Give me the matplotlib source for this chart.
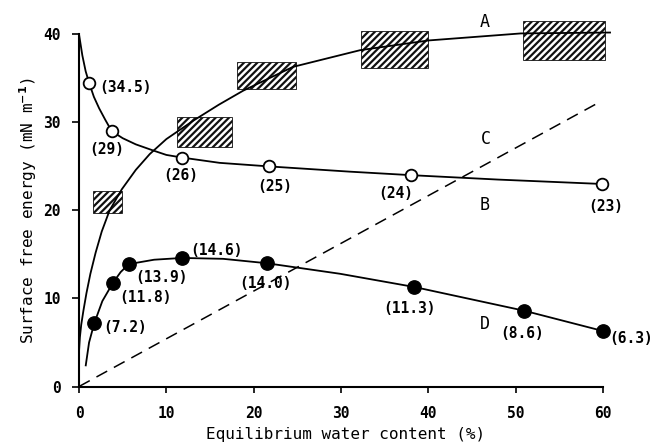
import matplotlib
matplotlib.use("Agg")
import matplotlib.pyplot as plt
import matplotlib.patches as mpatches

plt.rcParams["font.family"] = ["DejaVu Sans Mono", "DejaVu Sans"]
plt.rcParams["font.weight"] = "bold"
plt.rcParams["hatch.linewidth"] = 1.6

# Curve A: total surface free energy of the hydrated film (smooth trace)
a_x = [0.0, 0.1, 0.25, 0.5, 0.85, 1.3, 1.9, 2.6, 3.5, 4.9, 6.5, 8.1, 10.0,
       13.1, 16.0, 18.8, 24.5, 32.2, 40.0, 50.6, 60.8]
a_y = [4.0, 5.6, 7.0, 8.6, 10.6, 12.8, 15.2, 17.6, 20.0, 22.4, 24.6, 26.4, 28.1,
       30.2, 32.0, 33.6, 36.3, 38.2, 39.3, 40.1, 40.2]

# Curve B: open circles, values in brackets
b_pts_x = [1.15, 3.74, 11.8, 21.7, 38.05, 59.9]
b_pts_y = [34.5, 29.0, 26.0, 25.0, 24.0, 23.0]
b_labels = ["(34.5)", "(29)", "(26)", "(25)", "(24)", "(23)"]
b_x = [0.0, 0.38, 0.76, 1.15, 1.7, 2.3, 3.0, 3.74, 5.0, 6.5, 8.5, 10.0, 11.8,
       16.1, 21.7, 31.0, 38.05, 48.0, 59.9]
b_y = [40.0, 37.6, 35.8, 34.5, 32.9, 31.6, 30.3, 29.0, 28.2, 27.5, 26.8, 26.3, 26.0,
       25.4, 25.0, 24.4, 24.0, 23.5, 23.0]

# Curve C: dashed reference line
c_x = [0.0, 59.6]
c_y = [0.0, 32.3]

# Curve D: filled circles, values in brackets
d_pts_x = [1.75, 3.9, 5.7, 11.8, 21.5, 38.4, 51.0, 60.0]
d_pts_y = [7.2, 11.8, 13.9, 14.6, 14.0, 11.3, 8.6, 6.3]
d_labels = ["(7.2)", "(11.8)", "(13.9)", "(14.6)", "(14.0)", "(11.3)", "(8.6)", "(6.3)"]
d_x = [0.77, 1.15, 1.75, 2.67, 3.9, 4.77, 5.7, 8.6, 11.8, 16.5, 21.5, 29.9,
       38.4, 51.0, 60.0]
d_y = [2.4, 5.0, 7.2, 9.7, 11.8, 13.0, 13.9, 14.4, 14.6, 14.5, 14.0, 12.8,
       11.3, 8.6, 6.3]

# Hatched ranges (water content x energy)
rect_x0 = [1.64, 11.2, 18.1, 32.3, 50.8]
rect_x1 = [4.89, 17.5, 24.9, 40.0, 60.2]
rect_y0 = [19.67, 27.23, 33.75, 36.14, 37.08]
rect_y1 = [22.24, 30.64, 36.89, 40.37, 41.55]

x_ticks = [0, 10, 20, 30, 40, 50, 60]
y_ticks = [0, 10, 20, 30, 40]

fig = plt.figure(figsize=(6.58, 4.46), dpi=100)
ax = fig.add_axes([0.1201, 0.1334, 0.7964, 0.7897])

for x0, x1, y0, y1 in zip(rect_x0, rect_x1, rect_y0, rect_y1):
    ax.add_patch(mpatches.Rectangle((x0, y0), x1 - x0, y1 - y0, facecolor="none",
                                    edgecolor="#111111", hatch="/////", linewidth=0.6,
                                    clip_on=False, zorder=2))

ax.plot(a_x, a_y, color="black", lw=1.3, clip_on=False, zorder=3)
ax.plot(b_x, b_y, color="black", lw=1.3, clip_on=False, zorder=3)
ax.plot(d_x, d_y, color="black", lw=1.3, clip_on=False, zorder=3)
ax.plot(c_x, c_y, color="black", lw=1.1, linestyle=(0, (8, 5)), clip_on=False, zorder=3)

ax.plot(b_pts_x, b_pts_y, "o", ms=8.4, mfc="white", mec="black", mew=1.3,
        clip_on=False, zorder=5)
ax.plot(d_pts_x, d_pts_y, "o", ms=9.6, mfc="black", mec="black",
        clip_on=False, zorder=5)

# bracketed values: (x, y, ha) for each point label
b_lab_pos = [(2.29, 33.98, "left"), (3.17, 26.86, "center"), (11.66, 24.0, "center"),
             (22.44, 22.7, "center"), (36.3, 21.94, "center"), (60.3, 20.42, "center")]
d_lab_pos = [(2.78, 6.72, "left"), (4.59, 10.13, "left"), (6.41, 12.4, "left"),
             (12.79, 15.5, "left"), (21.3, 11.72, "center"), (37.87, 8.88, "center"),
             (50.75, 6.04, "center"), (60.69, 5.47, "left")]
for txt, (lx, ly, ha) in zip(b_labels, b_lab_pos):
    ax.text(lx, ly, txt, ha=ha, va="center", fontsize=10.5, clip_on=False)
for txt, (lx, ly, ha) in zip(d_labels, d_lab_pos):
    ax.text(lx, ly, txt, ha=ha, va="center", fontsize=10.5, clip_on=False)

for name, lx, ly in (("A", 46.44, 41.43), ("C", 46.64, 28.07),
                     ("B", 46.44, 20.61), ("D", 46.44, 7.1)):
    ax.text(lx, ly, name, ha="center", va="center", fontsize=12,
            fontweight="normal", clip_on=False)

ax.set_xlim(0, 60)
ax.set_ylim(0, 40)
ax.set_xticks(x_ticks)
ax.set_yticks(y_ticks)
for side in ("top", "right"):
    ax.spines[side].set_visible(False)
for side in ("left", "bottom"):
    ax.spines[side].set_linewidth(1.5)
ax.tick_params(axis="x", direction="out", length=4, width=1.2, pad=10, labelsize=10.5)
ax.tick_params(axis="y", direction="out", length=5, width=1.2, pad=8, labelsize=10.5)

ax.set_xlabel("Equilibrium water content (%)", fontsize=11.5, va="center",
              fontweight="normal")
ax.xaxis.set_label_coords(0.5095, -0.1349)
ax.set_ylabel("Surface free energy (mN m$^{-1}$)", fontsize=11.5, va="center",
              fontweight="normal")
ax.yaxis.set_label_coords(-0.0973, 0.5)

fig.savefig("out.png", dpi=100)
